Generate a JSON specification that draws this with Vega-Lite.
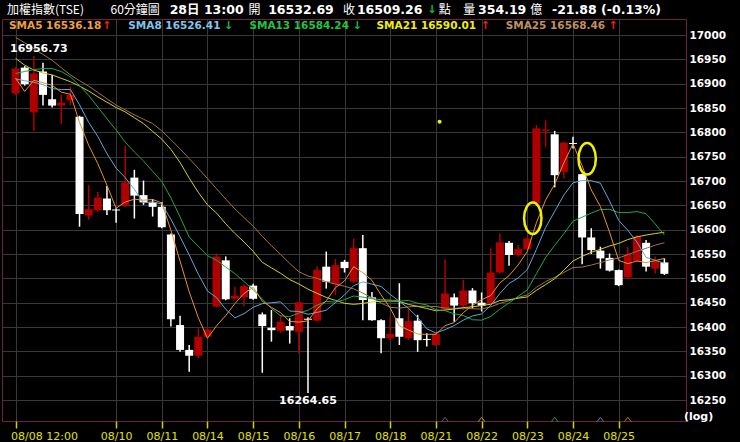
{
  "$schema": "https://vega.github.io/schema/vega-lite/v6.json",
  "width": 684,
  "height": 402,
  "autosize": {"type": "none"},
  "padding": {"left": 2, "top": 19, "right": 54, "bottom": 21},
  "background": "#000000",
  "config": {
    "view": {"fill": "#000000", "stroke": "#702040", "strokeWidth": 1},
    "axisY": {
      "domain": false,
      "ticks": false,
      "grid": true,
      "gridColor": "#383838",
      "gridWidth": 1,
      "labelColor": "#ffffff",
      "labelFont": "DejaVu Sans",
      "labelFontWeight": "bold",
      "labelFontSize": 10.5,
      "labelPadding": 3,
      "labelAlign": "left",
      "labelBaseline": "middle",
      "title": null
    }
  },
  "resolve": {"scale": {"color": "independent"}},
  "datasets": {
    "c": [
      {"i":0,"o":16880,"h":16934,"l":16876,"c":16931,"m5":16911,"m8":16910,"m13":16921,"m21":16952,"m25":16995},
      {"i":1,"o":16933,"h":16936,"l":16896,"c":16899,"m5":16884,"m8":16906,"m13":16925,"m21":16938,"m25":16984},
      {"i":2,"o":16841,"h":16956.73,"l":16803,"c":16921,"m5":16907,"m8":16903,"m13":16929,"m21":16928,"m25":16972},
      {"i":3,"o":16925,"h":16943,"l":16855,"c":16877,"m5":16902,"m8":16898,"m13":16931,"m21":16922,"m25":16960},
      {"i":4,"o":16868,"h":16918,"l":16851,"c":16855,"m5":16896.6,"m8":16890,"m13":16931,"m21":16918,"m25":16948},
      {"i":5,"o":16855,"h":16877,"l":16817,"c":16861,"m5":16882.6,"m8":16888,"m13":16925,"m21":16911,"m25":16933},
      {"i":6,"o":16866,"h":16894,"l":16856,"c":16877,"m5":16878.2,"m8":16888,"m13":16914,"m21":16904,"m25":16918},
      {"i":7,"o":16832,"h":16834,"l":16606,"c":16632,"m5":16820.4,"m8":16856.6,"m13":16896,"m21":16895,"m25":16906},
      {"i":8,"o":16629,"h":16692,"l":16621,"c":16642,"m5":16773.4,"m8":16820.5,"m13":16876,"m21":16885,"m25":16895},
      {"i":9,"o":16640,"h":16678,"l":16637,"c":16666,"m5":16735.6,"m8":16791.4,"m13":16852,"m21":16873,"m25":16882},
      {"i":10,"o":16664,"h":16690,"l":16630,"c":16640,"m5":16691.4,"m8":16756.3,"m13":16828,"m21":16862,"m25":16869},
      {"i":11,"o":16641.5,"h":16644,"l":16614,"c":16639.5,"m5":16644,"m8":16726.6,"m13":16805,"m21":16851,"m25":16856},
      {"i":12,"o":16649,"h":16772,"l":16647,"c":16697,"m5":16657,"m8":16706.9,"m13":16779.8,"m21":16842,"m25":16846},
      {"i":13,"o":16707,"h":16723,"l":16623,"c":16670,"m5":16662.6,"m8":16683,"m13":16759.8,"m21":16830,"m25":16836},
      {"i":14,"o":16671,"h":16701,"l":16651,"c":16656,"m5":16660.6,"m8":16655.4,"m13":16741.1,"m21":16818,"m25":16827},
      {"i":15,"o":16656,"h":16663,"l":16627,"c":16647,"m5":16662,"m8":16657.3,"m13":16720,"m21":16802,"m25":16818},
      {"i":16,"o":16647,"h":16657,"l":16603,"c":16605,"m5":16655,"m8":16652.6,"m13":16699.1,"m21":16786,"m25":16803},
      {"i":17,"o":16590,"h":16592,"l":16401,"c":16416,"m5":16598.8,"m8":16621.4,"m13":16665.3,"m21":16765,"m25":16785},
      {"i":18,"o":16404,"h":16423,"l":16349,"c":16353,"m5":16535.4,"m8":16585.5,"m13":16626.2,"m21":16738,"m25":16766},
      {"i":19,"o":16353,"h":16363,"l":16308,"c":16341,"m5":16472.4,"m8":16548.1,"m13":16585,"m21":16706,"m25":16746},
      {"i":20,"o":16341,"h":16397,"l":16336,"c":16380,"m5":16419,"m8":16508.5,"m13":16565.6,"m21":16676.5,"m25":16726},
      {"i":21,"o":16380,"h":16397,"l":16377,"c":16395,"m5":16377,"m8":16474.1,"m13":16546.6,"m21":16651,"m25":16705},
      {"i":22,"o":16442,"h":16551,"l":16441,"c":16545,"m5":16402.8,"m8":16460.3,"m13":16537.3,"m21":16634.1,"m25":16684},
      {"i":23,"o":16537,"h":16545,"l":16455,"c":16457,"m5":16423.6,"m8":16436.5,"m13":16523.2,"m21":16612,"m25":16663},
      {"i":24,"o":16458,"h":16483,"l":16456,"c":16464,"m5":16448.2,"m8":16418.9,"m13":16509.7,"m21":16592.3,"m25":16642.7},
      {"i":25,"o":16461,"h":16488,"l":16442,"c":16484,"m5":16469,"m8":16427.4,"m13":16493.3,"m21":16574.7,"m25":16624.8},
      {"i":26,"o":16485,"h":16489,"l":16456,"c":16458,"m5":16481.6,"m8":16440.5,"m13":16477,"m21":16555.5,"m25":16607.2},
      {"i":27,"o":16426,"h":16430,"l":16306,"c":16402,"m5":16453,"m8":16448.1,"m13":16457.5,"m21":16532.9,"m25":16586.4},
      {"i":28,"o":16398.5,"h":16435,"l":16370,"c":16393.5,"m5":16440.3,"m8":16449.8,"m13":16438,"m21":16521.5,"m25":16567.1},
      {"i":29,"o":16392,"h":16425,"l":16388,"c":16411,"m5":16429.7,"m8":16451.8,"m13":16423,"m21":16510.5,"m25":16549.3},
      {"i":30,"o":16402,"h":16418,"l":16366,"c":16393,"m5":16411.5,"m8":16432.8,"m13":16421.3,"m21":16497.5,"m25":16530.6},
      {"i":31,"o":16390,"h":16452,"l":16346,"c":16451,"m5":16410.1,"m8":16432.1,"m13":16428.8,"m21":16488.5,"m25":16513.5},
      {"i":32,"o":16417,"h":16420,"l":16264.65,"c":16415,"m5":16412.8,"m8":16426,"m13":16434.5,"m21":16477.8,"m25":16504.9},
      {"i":33,"o":16413,"h":16525,"l":16411,"c":16517,"m5":16437.5,"m8":16430.1,"m13":16445.1,"m21":16469.2,"m25":16499.9},
      {"i":34,"o":16524,"h":16555,"l":16479,"c":16493,"m5":16453.9,"m8":16434.5,"m13":16452.6,"m21":16460.8,"m25":16493},
      {"i":35,"o":16488,"h":16540,"l":16466,"c":16527,"m5":16480.7,"m8":16450.1,"m13":16451.2,"m21":16454.7,"m25":16488.4},
      {"i":36,"o":16534,"h":16538,"l":16512,"c":16521,"m5":16494.7,"m8":16466.1,"m13":16456.2,"m21":16448.7,"m25":16483.7},
      {"i":37,"o":16493,"h":16582,"l":16490,"c":16562,"m5":16524,"m8":16485,"m13":16463.7,"m21":16446.6,"m25":16478.3},
      {"i":38,"o":16562,"h":16589,"l":16414,"c":16455.5,"m5":16511.7,"m8":16492.8,"m13":16461.5,"m21":16448.5,"m25":16469.7},
      {"i":39,"o":16461,"h":16472,"l":16413,"c":16414,"m5":16495.9,"m8":16488.1,"m13":16458.1,"m21":16451.4,"m25":16460},
      {"i":40,"o":16414,"h":16416,"l":16346,"c":16377,"m5":16465.9,"m8":16483.3,"m13":16456.2,"m21":16453.1,"m25":16449.2},
      {"i":41,"o":16377,"h":16421,"l":16373,"c":16386,"m5":16438.9,"m8":16466.9,"m13":16455.6,"m21":16453.4,"m25":16440.5},
      {"i":42,"o":16418,"h":16490,"l":16363,"c":16380,"m5":16402.5,"m8":16452.8,"m13":16453.2,"m21":16452.7,"m25":16439},
      {"i":43,"o":16377,"h":16438,"l":16373,"c":16412,"m5":16393.8,"m8":16438.4,"m13":16454.7,"m21":16446.4,"m25":16441.4},
      {"i":44,"o":16413,"h":16425,"l":16349,"c":16373,"m5":16385.6,"m8":16419.9,"m13":16448.7,"m21":16442.4,"m25":16442.7},
      {"i":45,"o":16375.5,"h":16387,"l":16360,"c":16373.5,"m5":16385,"m8":16396.4,"m13":16445.5,"m21":16438.1,"m25":16442.4},
      {"i":46,"o":16363,"h":16388,"l":16361,"c":16386,"m5":16385,"m8":16387.8,"m13":16435.4,"m21":16433.4,"m25":16442.1},
      {"i":47,"o":16436,"h":16539,"l":16435,"c":16469,"m5":16402.8,"m8":16394.6,"m13":16433.6,"m21":16434.9,"m25":16439},
      {"i":48,"o":16461,"h":16469,"l":16411,"c":16444,"m5":16409.2,"m8":16403,"m13":16427.2,"m21":16436.9,"m25":16438.5},
      {"i":49,"o":16444,"h":16497,"l":16435,"c":16475,"m5":16429.6,"m8":16414.1,"m13":16423.7,"m21":16439.8,"m25":16438.9},
      {"i":50,"o":16475,"h":16480,"l":16438,"c":16449,"m5":16444.6,"m8":16422.8,"m13":16415,"m21":16441.6,"m25":16437.5},
      {"i":51,"o":16450,"h":16471,"l":16432,"c":16444,"m5":16456.2,"m8":16426.8,"m13":16414.1,"m21":16444,"m25":16437},
      {"i":52,"o":16449,"h":16562,"l":16447,"c":16512,"m5":16464.8,"m8":16444.1,"m13":16421.6,"m21":16446.9,"m25":16441.4},
      {"i":53,"o":16512,"h":16592,"l":16510,"c":16574,"m5":16490.8,"m8":16469.1,"m13":16436.8,"m21":16454.5,"m25":16448.6},
      {"i":54,"o":16573,"h":16577,"l":16526,"c":16548,"m5":16505.4,"m8":16489.4,"m13":16449.2,"m21":16456,"m25":16454.1},
      {"i":55,"o":16548,"h":16568,"l":16545,"c":16560,"m5":16527.6,"m8":16500.8,"m13":16463.1,"m21":16459.2,"m25":16460.8},
      {"i":56,"o":16560,"h":16584,"l":16558,"c":16582,"m5":16555.2,"m8":16518,"m13":16476.2,"m21":16461.8,"m25":16466},
      {"i":57,"o":16654,"h":16815,"l":16652,"c":16808,"m5":16614.4,"m8":16559.6,"m13":16509.6,"m21":16475.5,"m25":16481.7},
      {"i":58,"o":16803,"h":16825,"l":16770,"c":16806,"m5":16660.8,"m8":16604.3,"m13":16542.8,"m21":16487.1,"m25":16493.3},
      {"i":59,"o":16796,"h":16803,"l":16687,"c":16712,"m5":16693.6,"m8":16637.8,"m13":16567.9,"m21":16499.3,"m25":16502},
      {"i":60,"o":16719,"h":16781,"l":16705,"c":16779,"m5":16737.4,"m8":16671.1,"m13":16591.8,"m21":16516.7,"m25":16512.1},
      {"i":61,"o":16778,"h":16791,"l":16767,"c":16776,"m5":16776.2,"m8":16696.4,"m13":16617.3,"m21":16535.7,"m25":16522.3},
      {"i":62,"o":16714,"h":16715,"l":16529,"c":16584,"m5":16731.4,"m8":16700.9,"m13":16625.7,"m21":16545.1,"m25":16523.2},
      {"i":63,"o":16584,"h":16603,"l":16550,"c":16558,"m5":16681.8,"m8":16700.6,"m13":16634.1,"m21":16553.6,"m25":16527.3},
      {"i":64,"o":16557,"h":16565,"l":16520,"c":16541,"m5":16647.6,"m8":16695.5,"m13":16641.5,"m21":16559.7,"m25":16532.4},
      {"i":65,"o":16542,"h":16551,"l":16514,"c":16516,"m5":16595,"m8":16659,"m13":16641.8,"m21":16566.5,"m25":16537.9},
      {"i":66,"o":16517,"h":16518,"l":16484,"c":16486,"m5":16537,"m8":16619,"m13":16635.1,"m21":16571.9,"m25":16541.9},
      {"i":67,"o":16502,"h":16565,"l":16500,"c":16550,"m5":16530.2,"m8":16598.8,"m13":16635.2,"m21":16579.7,"m25":16548.7},
      {"i":68,"o":16536,"h":16589,"l":16534,"c":16586,"m5":16535.8,"m8":16574.6,"m13":16637.2,"m21":16585.2,"m25":16555.7},
      {"i":69,"o":16573,"h":16579,"l":16514,"c":16524,"m5":16532.4,"m8":16543.1,"m13":16632.8,"m21":16589,"m25":16561.7},
      {"i":70,"o":16520,"h":16545,"l":16510,"c":16536,"m5":16536.4,"m8":16537.1,"m13":16611.8,"m21":16592,"m25":16568.2},
      {"i":71,"o":16532.69,"h":16541,"l":16507,"c":16509.26,"m5":16541.1,"m8":16531,"m13":16589,"m21":16594.8,"m25":16573.1}
    ],
    "leg": [
      {"i":-0.72,"p":17017.5,"s":"m5","t":"SMA5 16536.18"},
      {"i":12.33,"p":17017.5,"s":"m8","t":"SMA8 16526.41"},
      {"i":25.59,"p":17017.5,"s":"m13","t":"SMA13 16584.24"},
      {"i":39.5,"p":17017.5,"s":"m21","t":"SMA21 16590.01"},
      {"i":53.63,"p":17017.5,"s":"m25","t":"SMA25 16568.46"}
    ],
    "arr": [
      {"i":45.57,"p":17051.4,"t":"↓"},
      {"i":10.0,"p":17017.5,"t":"↑"},
      {"i":23.3,"p":17017.5,"t":"↓"},
      {"i":37.4,"p":17017.5,"t":"↓"},
      {"i":51.4,"p":17017.5,"t":"↑"},
      {"i":65.4,"p":17017.5,"t":"↑"}
    ],
    "hn": [
      {"i":-0.94,"p":17051.4,"t":"加權指數(TSE)"},
      {"i":10.39,"p":17051.4,"t":"60分鐘圖"},
      {"i":25.48,"p":17051.4,"t":"開"},
      {"i":35.84,"p":17051.4,"t":"收"},
      {"i":46.3,"p":17051.4,"t":"點"},
      {"i":49.0,"p":17051.4,"t":"量"},
      {"i":56.33,"p":17051.4,"t":"億"}
    ],
    "hb": [
      {"i":16.86,"p":17051.4,"t":"28日 13:00"},
      {"i":27.64,"p":17051.4,"t":"16532.69"},
      {"i":37.35,"p":17051.4,"t":"16509.26"},
      {"i":50.61,"p":17051.4,"t":"354.19"},
      {"i":58.7,"p":17051.4,"t":"-21.88 (-0.13%)"}
    ],
    "ell": [
      {"i":56.6,"p":16623.4},
      {"i":62.55,"p":16745.8}
    ],
    "chev": [
      {"i":47,"s":"m25","p":16212.4},
      {"i":51,"s":"m21","p":16212.4},
      {"i":59,"s":"m13","p":16212.4},
      {"i":64,"s":"m8","p":16212.4},
      {"i":67,"s":"m5","p":16212.4}
    ]
  },
  "encoding": {
    "x": {
      "field": "i",
      "type": "quantitative",
      "scale": {"domain": [-0.938, 72.82], "nice": false, "zero": false},
      "axis": {
        "values": [0, 11, 16, 21, 26, 31, 36, 41, 46, 51, 56, 61, 66],
        "labelExpr": "datum.value==0?'08/08 12:00':datum.value==11?'08/10':datum.value==16?'08/11':datum.value==21?'08/14':datum.value==26?'08/15':datum.value==31?'08/16':datum.value==36?'08/17':datum.value==41?'08/18':datum.value==46?'08/21':datum.value==51?'08/22':datum.value==56?'08/23':datum.value==61?'08/24':'08/25'",
        "title": null,
        "domain": false,
        "grid": true,
        "gridColor": "#383838",
        "gridWidth": 1,
        "ticks": true,
        "tickColor": "#d0d000",
        "tickSize": 7,
        "tickWidth": 1.5,
        "labelColor": "#e0e000",
        "labelFont": "DejaVu Sans",
        "labelFontSize": 11,
        "labelPadding": 2,
        "labelFlush": 20,
        "labelFlushOffset": 5,
        "labelOverlap": false,
        "labelBound": false
      }
    }
  },
  "layer": [
    {
      "data": {"name": "c"},
      "mark": {"type": "rule", "strokeWidth": 1.5},
      "encoding": {
        "y": {
          "field": "l", "type": "quantitative",
          "scale": {"domain": [16206.9, 17032.9], "nice": false, "zero": false},
          "axis": {"orient": "right", "format": "d", "title": null, "values": [16250, 16300, 16350, 16400, 16450, 16500, 16550, 16600, 16650, 16700, 16750, 16800, 16850, 16900, 16950, 17000]}
        },
        "y2": {"field": "h"},
        "color": {"condition": {"test": "datum.c >= datum.o", "value": "#b00000"}, "value": "#ffffff"}
      }
    },
    {
      "data": {"name": "c"},
      "mark": {"type": "bar", "width": 8},
      "encoding": {
        "y": {"field": "o", "type": "quantitative", "scale": {"domain": [16206.9, 17032.9], "nice": false, "zero": false},
          "axis": {"orient": "right", "format": "d", "title": null, "values": [16250, 16300, 16350, 16400, 16450, 16500, 16550, 16600, 16650, 16700, 16750, 16800, 16850, 16900, 16950, 17000]}},
        "y2": {"field": "c"},
        "color": {"condition": {"test": "datum.c >= datum.o", "value": "#b00000"}, "value": "#ffffff"}
      }
    },
    {
      "data": {"name": "c"},
      "transform": [{"fold": ["m25", "m21", "m13", "m8", "m5"], "as": ["s", "v"]}],
      "mark": {"type": "line", "strokeWidth": 1},
      "encoding": {
        "y": {"field": "v", "type": "quantitative", "scale": {"domain": [16206.9, 17032.9], "nice": false, "zero": false},
          "axis": {"orient": "right", "format": "d", "title": null, "values": [16250, 16300, 16350, 16400, 16450, 16500, 16550, 16600, 16650, 16700, 16750, 16800, 16850, 16900, 16950, 17000]}},
        "color": {"field": "s", "type": "nominal", "scale": {"domain": ["m5", "m8", "m13", "m21", "m25"], "range": ["#e8922c", "#5fa8d4", "#1ea848", "#d4d020", "#9a7448"]}, "legend": null}
      }
    },
    {
      "data": {"name": "leg"},
      "mark": {"type": "text", "align": "left", "baseline": "middle", "font": "DejaVu Sans", "fontWeight": "bold", "fontSize": 10.5},
      "encoding": {
        "y": {"field": "p", "type": "quantitative", "scale": {"domain": [16206.9, 17032.9], "nice": false, "zero": false},
          "axis": {"orient": "right", "format": "d", "title": null, "values": [16250, 16300, 16350, 16400, 16450, 16500, 16550, 16600, 16650, 16700, 16750, 16800, 16850, 16900, 16950, 17000]}},
        "text": {"field": "t"},
        "color": {"field": "s", "type": "nominal", "scale": {"domain": ["m5", "m8", "m13", "m21", "m25"], "range": ["#f0a040", "#80c4ec", "#22c444", "#f0f000", "#c09060"]}, "legend": null}
      }
    },
    {
      "data": {"name": "arr"},
      "mark": {"type": "text", "align": "center", "baseline": "middle", "font": "DejaVu Sans", "fontWeight": "bold", "fontSize": 11},
      "encoding": {
        "y": {"field": "p", "type": "quantitative", "scale": {"domain": [16206.9, 17032.9], "nice": false, "zero": false},
          "axis": {"orient": "right", "format": "d", "title": null, "values": [16250, 16300, 16350, 16400, 16450, 16500, 16550, 16600, 16650, 16700, 16750, 16800, 16850, 16900, 16950, 17000]}},
        "text": {"field": "t"},
        "color": {"condition": {"test": "datum.t == '↑'", "value": "#ff1a1a"}, "value": "#10c040"}
      }
    },
    {
      "data": {"name": "hn"},
      "mark": {"type": "text", "align": "left", "baseline": "middle", "font": "Noto Sans CJK TC", "fontSize": 12, "color": "#ffffff"},
      "encoding": {
        "y": {"field": "p", "type": "quantitative", "scale": {"domain": [16206.9, 17032.9], "nice": false, "zero": false},
          "axis": {"orient": "right", "format": "d", "title": null, "values": [16250, 16300, 16350, 16400, 16450, 16500, 16550, 16600, 16650, 16700, 16750, 16800, 16850, 16900, 16950, 17000]}},
        "text": {"field": "t"}
      }
    },
    {
      "data": {"name": "hb"},
      "mark": {"type": "text", "align": "left", "baseline": "middle", "font": "DejaVu Sans, Noto Sans CJK TC", "fontWeight": "bold", "fontSize": 12.5, "color": "#ffffff"},
      "encoding": {
        "y": {"field": "p", "type": "quantitative", "scale": {"domain": [16206.9, 17032.9], "nice": false, "zero": false},
          "axis": {"orient": "right", "format": "d", "title": null, "values": [16250, 16300, 16350, 16400, 16450, 16500, 16550, 16600, 16650, 16700, 16750, 16800, 16850, 16900, 16950, 17000]}},
        "text": {"field": "t"}
      }
    },
    {
      "data": {"values": [{"i": 2, "p": 16956.73, "t": "16956.73"}]},
      "mark": {"type": "text", "align": "center", "baseline": "middle", "dx": 5, "dy": -7, "font": "DejaVu Sans", "fontWeight": "bold", "fontSize": 11, "color": "#ffffff"},
      "encoding": {
        "y": {"field": "p", "type": "quantitative", "scale": {"domain": [16206.9, 17032.9], "nice": false, "zero": false},
          "axis": {"orient": "right", "format": "d", "title": null, "values": [16250, 16300, 16350, 16400, 16450, 16500, 16550, 16600, 16650, 16700, 16750, 16800, 16850, 16900, 16950, 17000]}},
        "text": {"field": "t"}
      }
    },
    {
      "data": {"values": [{"i": 32, "p": 16264.65, "t": "16264.65"}]},
      "mark": {"type": "text", "align": "center", "baseline": "middle", "dy": 8, "font": "DejaVu Sans", "fontWeight": "bold", "fontSize": 11, "color": "#ffffff"},
      "encoding": {
        "y": {"field": "p", "type": "quantitative", "scale": {"domain": [16206.9, 17032.9], "nice": false, "zero": false},
          "axis": {"orient": "right", "format": "d", "title": null, "values": [16250, 16300, 16350, 16400, 16450, 16500, 16550, 16600, 16650, 16700, 16750, 16800, 16850, 16900, 16950, 17000]}},
        "text": {"field": "t"}
      }
    },
    {
      "data": {"values": [{"i": 73.15, "p": 16215.7, "t": "(log)"}]},
      "mark": {"type": "text", "align": "left", "baseline": "middle", "font": "DejaVu Sans", "fontWeight": "bold", "fontSize": 11, "color": "#ffffff"},
      "encoding": {
        "y": {"field": "p", "type": "quantitative", "scale": {"domain": [16206.9, 17032.9], "nice": false, "zero": false},
          "axis": {"orient": "right", "format": "d", "title": null, "values": [16250, 16300, 16350, 16400, 16450, 16500, 16550, 16600, 16650, 16700, 16750, 16800, 16850, 16900, 16950, 17000]}},
        "text": {"field": "t"}
      }
    },
    {
      "data": {"name": "ell"},
      "mark": {"type": "point", "shape": "M0,-1 A0.55,1 0 1,1 0,1 A0.55,1 0 1,1 0,-1 Z", "size": 1000, "filled": false, "stroke": "#f0f000", "strokeWidth": 2.5, "opacity": 1},
      "encoding": {
        "y": {"field": "p", "type": "quantitative", "scale": {"domain": [16206.9, 17032.9], "nice": false, "zero": false},
          "axis": {"orient": "right", "format": "d", "title": null, "values": [16250, 16300, 16350, 16400, 16450, 16500, 16550, 16600, 16650, 16700, 16750, 16800, 16850, 16900, 16950, 17000]}}
      }
    },
    {
      "data": {"values": [{"i": 46.4, "p": 16822}]},
      "mark": {"type": "point", "shape": "circle", "size": 16, "filled": true, "color": "#f0f000", "opacity": 1},
      "encoding": {
        "y": {"field": "p", "type": "quantitative", "scale": {"domain": [16206.9, 17032.9], "nice": false, "zero": false},
          "axis": {"orient": "right", "format": "d", "title": null, "values": [16250, 16300, 16350, 16400, 16450, 16500, 16550, 16600, 16650, 16700, 16750, 16800, 16850, 16900, 16950, 17000]}}
      }
    },
    {
      "data": {"name": "chev"},
      "mark": {"type": "point", "shape": "M-1,1 L0,-0.3 L1,1", "size": 46, "filled": false, "strokeWidth": 1, "opacity": 1},
      "encoding": {
        "y": {"field": "p", "type": "quantitative", "scale": {"domain": [16206.9, 17032.9], "nice": false, "zero": false},
          "axis": {"orient": "right", "format": "d", "title": null, "values": [16250, 16300, 16350, 16400, 16450, 16500, 16550, 16600, 16650, 16700, 16750, 16800, 16850, 16900, 16950, 17000]}},
        "color": {"field": "s", "type": "nominal", "scale": {"domain": ["m5", "m8", "m13", "m21", "m25"], "range": ["#c07030", "#6080a0", "#20a040", "#b0a030", "#706050"]}, "legend": null}
      }
    }
  ]
}
